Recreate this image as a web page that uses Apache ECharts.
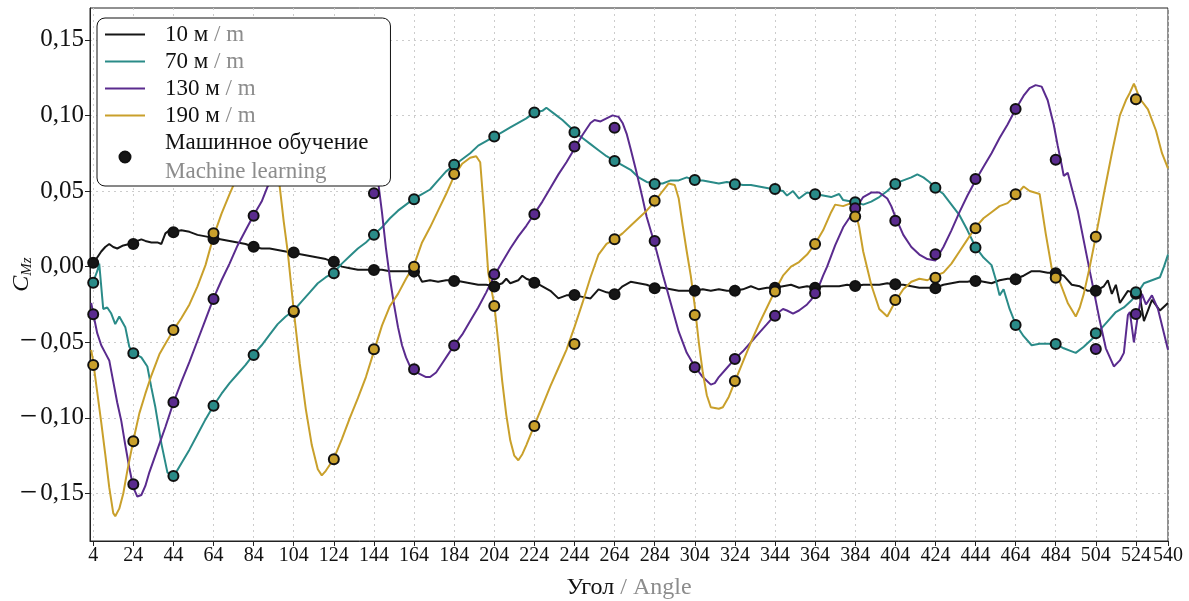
<!DOCTYPE html>
<html>
<head>
<meta charset="utf-8">
<script src="https://cdn.jsdelivr.net/npm/echarts@6/dist/echarts.min.js"></script>
<style>
html,body{margin:0;padding:0;background:#fff;}
#chart{width:1189px;height:601px;}
</style>
</head>
<body>
<div id="chart"></div>
<script>
// ---- data (angle, C_Mz) ----
const line10 = [[3,0.002],[4,0.002],[6,0.006],[8,0.010],[10,0.013],[12,0.015],[14,0.013],[16,0.012],[19,0.014],[22,0.015],[24,0.016],[28,0.018],[30,0.017],[33,0.016],[36,0.016],[38,0.015],[40,0.022],[42,0.024],[44,0.023],[48,0.024],[52,0.023],[56,0.021],[60,0.020],[64,0.019],[68,0.018],[72,0.017],[76,0.016],[80,0.015],[84,0.013],[88,0.012],[92,0.012],[96,0.011],[100,0.010],[104,0.009],[108,0.008],[112,0.007],[116,0.006],[120,0.005],[124,0.003],[128,0.000],[132,-0.001],[136,-0.002],[140,-0.002],[144,-0.002],[148,-0.002],[152,-0.003],[156,-0.003],[160,-0.003],[164,-0.003],[166,-0.005],[168,-0.010],[172,-0.009],[176,-0.010],[180,-0.009],[184,-0.009],[188,-0.010],[192,-0.011],[196,-0.012],[200,-0.012],[204,-0.013],[208,-0.011],[210,-0.008],[212,-0.011],[216,-0.009],[218,-0.006],[220,-0.008],[224,-0.010],[228,-0.013],[232,-0.016],[236,-0.021],[240,-0.019],[244,-0.019],[248,-0.020],[252,-0.021],[256,-0.015],[260,-0.017],[264,-0.018],[268,-0.013],[272,-0.010],[276,-0.011],[280,-0.012],[284,-0.014],[288,-0.014],[292,-0.015],[296,-0.016],[300,-0.016],[304,-0.016],[308,-0.015],[312,-0.016],[316,-0.015],[320,-0.016],[324,-0.016],[328,-0.015],[332,-0.013],[336,-0.015],[340,-0.014],[344,-0.014],[348,-0.013],[352,-0.012],[356,-0.014],[360,-0.013],[364,-0.014],[368,-0.013],[372,-0.013],[376,-0.013],[380,-0.012],[384,-0.013],[388,-0.012],[392,-0.012],[396,-0.012],[400,-0.011],[404,-0.012],[408,-0.012],[412,-0.013],[416,-0.014],[420,-0.014],[424,-0.014],[428,-0.012],[432,-0.011],[436,-0.010],[440,-0.010],[444,-0.009],[448,-0.010],[452,-0.011],[456,-0.009],[460,-0.008],[464,-0.008],[468,-0.006],[472,-0.003],[476,-0.003],[480,-0.004],[484,-0.004],[488,-0.006],[492,-0.012],[496,-0.013],[500,-0.016],[504,-0.016],[508,-0.013],[510,-0.009],[512,-0.018],[514,-0.012],[516,-0.024],[520,-0.016],[524,-0.018],[526,-0.020],[528,-0.036],[532,-0.022],[536,-0.029],[540,-0.024]];

const line70 = [[3,-0.012],[4,-0.010],[6,-0.003],[7,0.002],[9,-0.028],[11,-0.027],[13,-0.031],[15,-0.038],[17,-0.033],[20,-0.040],[22,-0.053],[24,-0.057],[28,-0.060],[31,-0.066],[33,-0.080],[35,-0.093],[38,-0.117],[41,-0.136],[44,-0.139],[48,-0.130],[52,-0.121],[56,-0.111],[60,-0.101],[64,-0.092],[68,-0.084],[72,-0.077],[76,-0.071],[80,-0.065],[84,-0.058],[88,-0.052],[92,-0.045],[96,-0.038],[100,-0.033],[104,-0.029],[108,-0.023],[112,-0.017],[116,-0.011],[120,-0.007],[124,-0.004],[128,0.002],[132,0.007],[136,0.012],[140,0.016],[144,0.021],[148,0.026],[152,0.032],[156,0.037],[160,0.041],[164,0.045],[168,0.048],[172,0.051],[176,0.057],[180,0.063],[184,0.067],[188,0.071],[192,0.075],[196,0.080],[200,0.083],[204,0.086],[208,0.089],[212,0.092],[216,0.095],[220,0.098],[224,0.102],[228,0.103],[230,0.105],[234,0.101],[238,0.097],[242,0.092],[244,0.089],[248,0.085],[252,0.081],[256,0.077],[260,0.073],[264,0.070],[268,0.067],[272,0.064],[276,0.059],[280,0.056],[284,0.055],[288,0.055],[292,0.057],[296,0.057],[300,0.059],[304,0.057],[308,0.057],[312,0.056],[316,0.055],[320,0.056],[324,0.055],[328,0.054],[332,0.054],[336,0.053],[340,0.052],[344,0.051],[348,0.050],[350,0.047],[353,0.050],[356,0.045],[360,0.049],[364,0.048],[368,0.047],[372,0.046],[376,0.048],[378,0.044],[382,0.043],[386,0.042],[388,0.041],[392,0.043],[396,0.046],[400,0.050],[404,0.055],[408,0.057],[412,0.059],[415,0.061],[418,0.059],[421,0.056],[424,0.052],[428,0.048],[432,0.041],[436,0.034],[440,0.024],[444,0.013],[448,0.006],[452,0.001],[454,-0.008],[456,-0.019],[458,-0.015],[461,-0.028],[464,-0.038],[468,-0.046],[472,-0.052],[476,-0.051],[480,-0.051],[484,-0.051],[488,-0.054],[492,-0.056],[494,-0.057],[498,-0.053],[502,-0.048],[506,-0.042],[510,-0.036],[514,-0.030],[518,-0.027],[522,-0.022],[525,-0.017],[528,-0.011],[532,-0.009],[536,-0.007],[538,0.000],[540,0.008]];

const line130 = [[3,-0.024],[4,-0.031],[6,-0.044],[8,-0.052],[10,-0.057],[12,-0.062],[14,-0.076],[16,-0.090],[18,-0.102],[20,-0.118],[22,-0.133],[24,-0.146],[26,-0.152],[28,-0.151],[30,-0.145],[32,-0.136],[36,-0.121],[40,-0.106],[44,-0.090],[48,-0.076],[52,-0.063],[56,-0.049],[60,-0.035],[64,-0.021],[68,-0.009],[72,0.002],[76,0.014],[80,0.024],[84,0.034],[88,0.043],[91,0.053],[96,0.064],[104,0.078],[112,0.088],[120,0.094],[128,0.092],[134,0.085],[140,0.072],[144,0.062],[146,0.057],[148,0.036],[150,0.012],[152,-0.008],[154,-0.025],[156,-0.040],[158,-0.052],[160,-0.060],[162,-0.066],[164,-0.069],[167,-0.071],[170,-0.073],[172,-0.073],[175,-0.070],[178,-0.064],[181,-0.058],[184,-0.052],[188,-0.045],[192,-0.036],[196,-0.027],[200,-0.017],[204,-0.006],[208,0.003],[212,0.012],[216,0.020],[220,0.027],[224,0.035],[228,0.043],[232,0.052],[236,0.061],[240,0.069],[244,0.078],[248,0.087],[252,0.095],[254,0.097],[257,0.096],[260,0.098],[263,0.100],[266,0.099],[268,0.095],[270,0.088],[272,0.078],[275,0.062],[278,0.045],[280,0.033],[284,0.015],[288,-0.005],[292,-0.024],[296,-0.043],[300,-0.057],[304,-0.066],[308,-0.073],[312,-0.078],[314,-0.077],[316,-0.073],[320,-0.067],[324,-0.061],[328,-0.056],[332,-0.050],[336,-0.044],[340,-0.038],[344,-0.032],[348,-0.028],[350,-0.029],[353,-0.031],[356,-0.029],[360,-0.025],[362,-0.022],[365,-0.016],[368,-0.006],[370,0.000],[374,0.014],[378,0.026],[382,0.034],[385,0.040],[388,0.046],[392,0.049],[396,0.049],[400,0.045],[402,0.040],[404,0.033],[408,0.021],[412,0.013],[416,0.008],[420,0.005],[424,0.004],[428,0.013],[432,0.024],[436,0.036],[440,0.047],[444,0.057],[448,0.066],[452,0.075],[456,0.085],[460,0.094],[464,0.104],[468,0.113],[471,0.118],[474,0.120],[477,0.119],[480,0.110],[483,0.094],[485,0.080],[487,0.067],[488,0.060],[490,0.062],[492,0.052],[495,0.037],[498,0.017],[501,-0.003],[503,-0.016],[506,-0.036],[509,-0.054],[513,-0.066],[516,-0.062],[518,-0.057],[520,-0.032],[521,-0.030],[523,-0.050],[525,-0.032],[527,-0.018],[529,-0.025],[532,-0.019],[535,-0.028],[540,-0.055]];

const line190 = [[3,-0.055],[4,-0.063],[6,-0.083],[8,-0.103],[10,-0.124],[12,-0.146],[14,-0.163],[15,-0.165],[17,-0.160],[19,-0.150],[21,-0.135],[24,-0.115],[27,-0.097],[30,-0.084],[33,-0.072],[37,-0.058],[40,-0.051],[44,-0.042],[48,-0.034],[52,-0.025],[56,-0.013],[60,0.001],[64,0.020],[68,0.035],[72,0.048],[76,0.060],[80,0.071],[84,0.080],[88,0.086],[91,0.085],[94,0.072],[97,0.053],[99,0.030],[101,0.010],[104,-0.029],[107,-0.064],[110,-0.094],[113,-0.118],[116,-0.134],[118,-0.138],[120,-0.135],[124,-0.127],[128,-0.114],[132,-0.100],[136,-0.087],[140,-0.073],[144,-0.056],[148,-0.039],[152,-0.026],[156,-0.018],[160,-0.008],[164,0.001],[168,0.016],[172,0.026],[176,0.037],[180,0.048],[184,0.060],[188,0.068],[192,0.072],[195,0.073],[197,0.069],[199,0.035],[201,-0.004],[204,-0.025],[206,-0.050],[208,-0.076],[210,-0.098],[212,-0.115],[214,-0.125],[216,-0.128],[218,-0.124],[220,-0.118],[224,-0.105],[228,-0.092],[232,-0.079],[236,-0.067],[240,-0.055],[244,-0.040],[248,-0.024],[252,-0.007],[256,0.008],[260,0.015],[264,0.018],[268,0.022],[272,0.027],[276,0.032],[280,0.037],[284,0.043],[288,0.050],[291,0.055],[294,0.054],[296,0.045],[298,0.027],[300,0.010],[302,-0.006],[304,-0.026],[306,-0.050],[308,-0.070],[310,-0.085],[312,-0.093],[316,-0.094],[318,-0.093],[321,-0.086],[324,-0.076],[328,-0.063],[332,-0.050],[336,-0.038],[340,-0.027],[344,-0.016],[348,-0.006],[352,0.000],[356,0.003],[360,0.008],[364,0.015],[368,0.024],[372,0.036],[374,0.041],[378,0.040],[382,0.042],[384,0.037],[386,0.026],[388,0.010],[392,-0.012],[396,-0.028],[400,-0.033],[404,-0.023],[408,-0.015],[412,-0.010],[416,-0.008],[420,-0.009],[424,-0.006],[428,-0.004],[432,0.002],[436,0.010],[440,0.018],[444,0.026],[448,0.032],[452,0.036],[456,0.040],[460,0.042],[464,0.047],[468,0.053],[471,0.050],[476,0.048],[479,0.022],[482,-0.001],[486,-0.010],[490,-0.024],[494,-0.033],[496,-0.027],[498,-0.018],[501,0.000],[504,0.020],[508,0.048],[512,0.075],[516,0.100],[519,0.110],[521,0.115],[523,0.121],[526,0.111],[530,0.104],[534,0.090],[537,0.075],[540,0.065]];

// machine-learning predictions
const mlAngles = [4,24,44,64,84,104,124,144,164,184,204,224,244,264,284,304,324,344,364,384,404,424,444,464,484,504,524];
const ml10  = [0.0026,0.015,0.0228,0.0183,0.0132,0.0093,0.0033,-0.0022,-0.0033,-0.0095,-0.0132,-0.0106,-0.0187,-0.0183,-0.0143,-0.016,-0.016,-0.0139,-0.0139,-0.0128,-0.0116,-0.0143,-0.0095,-0.0083,-0.0044,-0.016,-0.018];
const ml70  = [-0.0106,-0.0573,-0.1384,-0.0919,-0.0584,-0.030,-0.0044,0.021,0.0446,0.0673,0.086,0.1019,0.0889,0.0699,0.0547,0.0573,0.0545,0.0514,0.0479,0.0426,0.0547,0.0522,0.0126,-0.0386,-0.0511,-0.044,-0.0169];
const ml130 = [-0.0315,-0.1439,-0.0897,-0.0214,0.0337,0.075,0.090,0.0485,-0.0679,-0.0522,-0.005,0.0347,0.0794,0.0919,0.017,-0.0665,-0.061,-0.0324,-0.0176,0.0386,0.0304,0.0082,0.058,0.1043,0.0706,-0.0544,-0.0313];
const ml190 = [-0.065,-0.1155,-0.0419,0.0221,0.080,-0.0293,-0.1274,-0.0546,0.0,0.0613,-0.026,-0.1054,-0.0511,0.0181,0.0435,-0.0319,-0.0756,-0.0165,0.015,0.0331,-0.022,-0.0073,0.0254,0.0479,-0.0073,0.0198,0.1107];

const xTicks = [4,24,44,64,84,104,124,144,164,184,204,224,244,264,284,304,324,344,364,384,404,424,444,464,484,504,524,540];
const yTicks = [-0.15,-0.10,-0.05,0,0.05,0.10,0.15];

const seriesNames = ['10 м / m','70 м / m','130 м / m','190 м / m'];
const mlName = 'Машинное обучение';
const colors = ['#161616','#2a8b88','#5a2b8e','#c9a02b'];

const FONT = 'Liberation Serif';
const chart = echarts.init(document.getElementById('chart'), null, {renderer:'canvas'});

const lines = [line10, line70, line130, line190];
const mls = [ml10, ml70, ml130, ml190];

const series = [];
lines.forEach((d,i)=>{
  series.push({
    type:'line', name: seriesNames[i], data: d, symbol:'none', smooth:false,
    lineStyle:{color:colors[i], width:2}, itemStyle:{color:colors[i]},
    z: 2, animation:false
  });
});
mls.forEach((vals,i)=>{
  series.push({
    type:'scatter', name: mlName,
    data: mlAngles.map((a,k)=>[a, vals[k]]),
    symbol:'circle', symbolSize:10,
    itemStyle:{color:colors[i], borderColor:'#111', borderWidth:2, opacity:1},
    z: 3, animation:false
  });
});

function fmtY(v){
  const s = Math.abs(v).toFixed(2).replace('.', ',');
  return v < -1e-9 ? '{m|\u2212}{n|' + s + '}' : '{n|' + s + '}';
}

const lineIcon = 'path://M0,0H40V2.2H0Z';

chart.setOption({
  backgroundColor:'#ffffff',
  animation:false,
  grid:{left:90, right:21, top:8, bottom:60, outerBoundsMode:'none', containLabel:false,
        show:true, borderColor:'#222', borderWidth:1, backgroundColor:'transparent'},
  legend:{
    orient:'vertical', left:97, top:18,
    data:[...seriesNames.map(n=>({name:n, icon:lineIcon})), {name:mlName}],
    itemWidth:40, itemHeight:11, itemGap:4, symbolKeepAspect:true,
    padding:[5,22,3,8],
    backgroundColor:'#fff', borderColor:'#111', borderWidth:1, borderRadius:8,
    z: 10,
    textStyle:{fontFamily:FONT, fontSize:23, color:'#111',
      rich:{
        a:{fontFamily:FONT, fontSize:23, color:'#111', padding:[0,0,0,15]},
        g:{fontFamily:FONT, fontSize:23, color:'#8c8c8c'},
        m1:{fontFamily:FONT, fontSize:23, color:'#111', lineHeight:29, padding:[0,0,0,15]},
        m2:{fontFamily:FONT, fontSize:23, color:'#8c8c8c', lineHeight:29, padding:[0,0,0,15]}
      }},
    formatter: function(name){
      if (name === mlName) return '{m1|Машинное обучение}\n{m2|Machine learning}';
      const parts = name.split(' / ');
      return '{a|' + parts[0] + '}{g| / ' + parts[1] + '}';
    }
  },
  xAxis:{
    type:'value', min:2.4, max:540,
    name:'{a|Угол}{b| / Angle}', nameLocation:'middle', nameGap:35, nameMoveOverlap:false,
    nameTextStyle:{rich:{
      a:{fontFamily:FONT, fontSize:24, color:'#111'},
      b:{fontFamily:FONT, fontSize:24, color:'#8c8c8c'}
    }},
    axisLine:{show:true, onZero:false, lineStyle:{color:'#222', width:1}},
    axisTick:{show:true, length:5, inside:false, customValues:xTicks, lineStyle:{color:'#222'}},
    axisLabel:{customValues:xTicks, fontFamily:FONT, fontSize:20, color:'#111', margin:5, showMinLabel:true, showMaxLabel:true},
    splitLine:{show:true, lineStyle:{color:'#cccccc', width:1, type:[2,4]}}
  },
  yAxis:{
    type:'value', min:-0.1814, max:0.171,
    name:'{c|C}{s|Mz}', nameLocation:'middle', nameRotate:90, nameGap:55, nameMoveOverlap:false,
    nameTextStyle:{rich:{
      c:{fontFamily:FONT, fontSize:24, fontStyle:'italic', color:'#111', lineHeight:26},
      s:{fontFamily:FONT, fontSize:15, fontStyle:'italic', color:'#111', verticalAlign:'bottom', lineHeight:15}
    }},
    axisLine:{show:true, onZero:false, lineStyle:{color:'#222', width:1}},
    axisTick:{show:true, length:5, inside:false, customValues:yTicks, lineStyle:{color:'#222'}},
    axisLabel:{customValues:yTicks, margin:6, formatter:fmtY,
      rich:{
        m:{fontFamily:FONT, fontSize:31, color:'#111', padding:[0,3,0,0]},
        n:{fontFamily:FONT, fontSize:25, color:'#111'}
      }},
    splitLine:{show:true, lineStyle:{color:'#cccccc', width:1, type:[2,4]}}
  },
  series: series
});
</script>
</body>
</html>
